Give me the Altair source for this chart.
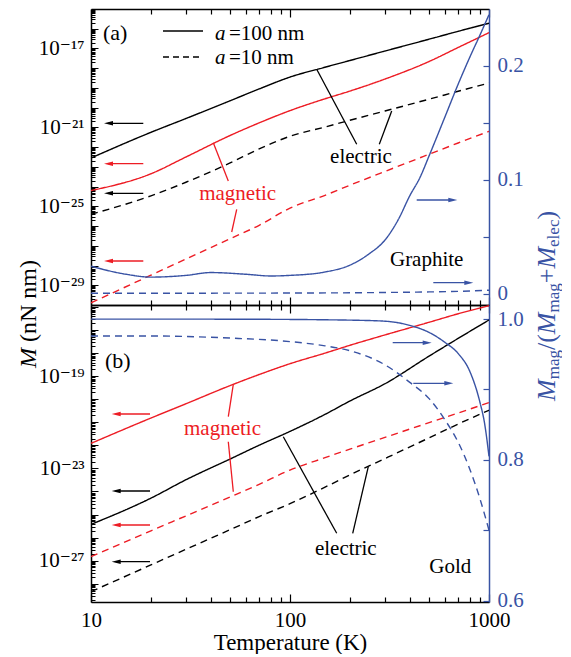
import altair as alt
import pandas as pd

FONT = "Liberation Serif, DejaVu Serif, Noto Serif, Times New Roman, Times, serif"
BLACK = "#000000"
RED = "#ed1c24"
BLUE = "#3953a4"

# ---------------- data ----------------
T = [10, 20, 30, 50, 70, 100, 150, 200, 300, 500, 700, 1000]

# panel (a) Graphite, log10 of M in nN nm
gr_elec_100 = [-22.55, -21.25, -20.55, -19.65, -19.05, -18.45, -17.95, -17.61, -17.13, -16.53, -16.13, -15.72]
gr_mag_100 = [-24.2, -23.35, -22.5, -21.41, -20.77, -20.15, -19.55, -19.16, -18.55, -17.66, -16.95, -16.2]
gr_elec_10 = [-25.4, -24.47, -23.78, -22.8, -22.09, -21.45, -20.98, -20.64, -20.17, -19.57, -19.17, -18.75]
gr_mag_10 = [-29.89, -28.49, -27.67, -26.64, -25.96, -25.09, -24.44, -23.93, -23.23, -22.36, -21.79, -21.2]

# panel (b) Gold, log10 of M in nN nm
au_elec_100 = [-25.43, -24.29, -23.49, -22.59, -21.99, -21.39, -20.65, -20.07, -19.32, -18.12, -17.35, -16.55]
au_mag_100 = [-21.91, -20.81, -20.19, -19.40, -18.92, -18.45, -17.99, -17.65, -17.2, -16.65, -16.28, -15.93]
au_elec_10 = [-28.35, -27.19, -26.51, -25.66, -25.09, -24.53, -23.81, -23.28, -22.57, -21.67, -21.07, -20.47]
au_mag_10 = [-26.83, -25.71, -25.06, -24.24, -23.69, -23.07, -22.53, -22.16, -21.65, -21.01, -20.59, -20.14]

# ratio M_mag/(M_mag+M_elec)
T_ratio_gr = [10, 15, 20, 30, 40, 60, 80, 100, 150, 200, 250, 300, 350, 400, 450, 500, 600, 700, 800, 900, 1000]
gr_ratio_100 = [0.024, 0.017, 0.0145, 0.016, 0.0185, 0.017, 0.0155, 0.016, 0.019, 0.025, 0.035, 0.047, 0.065,
                0.086, 0.102, 0.121, 0.155, 0.184, 0.2075, 0.227, 0.245]
T_ratio_gr10 = [10, 100, 300, 500, 700, 1000]
gr_ratio_10 = [0.0003, 0.0005, 0.001, 0.0015, 0.002, 0.003]

T_ratio_au = [10, 20, 50, 100, 150, 200, 300, 400, 500, 600, 700, 800, 900, 950, 1000]
au_ratio_100 = [1.0, 1.0, 0.9998, 0.9995, 0.999, 0.9985, 0.997, 0.991, 0.981, 0.967, 0.951, 0.926, 0.882, 0.852, 0.805]
T_ratio_au10 = [10, 20, 50, 100, 150, 200, 300, 400, 500, 600, 700, 800, 900, 1000]
au_ratio_10 = [0.976, 0.976, 0.973, 0.968, 0.962, 0.955, 0.935, 0.91, 0.887, 0.857, 0.825, 0.787, 0.745, 0.70]

# ---------------- helpers ----------------
SUP = {"-": "\u207b", "0": "\u2070", "1": "\u00b9", "2": "\u00b2", "3": "\u00b3", "4": "\u2074",
       "5": "\u2075", "6": "\u2076", "7": "\u2077", "8": "\u2078", "9": "\u2079"}


def sup_label(e):
    return "10" + "".join(SUP[c] for c in str(e))


def long_df(rows):
    recs = []
    for name, xs, ys, color, style, islog in rows:
        for x, y in zip(xs, ys):
            recs.append({"T": x, "V": (10 ** y) if islog else y, "c": color, "style": style, "series": name})
    return pd.DataFrame(recs)


W, HA, HB = 398, 296, 297
XSCALE = alt.Scale(type="log", domain=[10, 1000])
X_VALS = [10, 20, 30, 40, 50, 60, 70, 80, 90, 100, 200, 300, 400, 500, 600, 700, 800, 900, 1000]
XMAJOR = "(datum.value == 10 || datum.value == 100 || datum.value == 1000)"
XTICK = XMAJOR + " ? -8 : -5"
YTICK = "abs(log(datum.value)/LN10 - round(log(datum.value)/LN10)) < 0.01 ? -7 : -4"
DASH = alt.StrokeDash("style:N", scale=alt.Scale(domain=["solid", "dashed"], range=[[1, 0], [7, 5]]), legend=None)


def x_axis(orient, labels):
    kw = dict(orient=orient, values=X_VALS, tickSize={"expr": XTICK}, domainColor=BLACK, tickColor=BLACK,
              domainWidth=1.5, tickWidth=1.2, labelFlush=False, labelOverlap=False)
    if labels:
        kw.update(labels=True, labelPadding=15, labelFont=FONT, labelColor=BLACK,
                  labelFontSize={"condition": {"test": XMAJOR, "value": 21}, "value": 0},
                  labelExpr="datum.value == 10 ? '10' : datum.value == 100 ? '100' : datum.value == 1000 ? '1000' : ''",
                  title="Temperature (K)", titleFont=FONT, titleFontSize=23, titleFontWeight="normal",
                  titleColor=BLACK, titlePadding=1)
    else:
        kw.update(labels=False, title=None)
    return alt.Axis(**kw)


def left_axis(vals, labeled):
    tests = [f"abs(log(datum.value)/LN10 - ({e})) < 0.01" for e in labeled]
    expr = " : ".join(f"{t} ? '{sup_label(e)}'" for t, e in zip(tests, labeled)) + " : ''"
    return alt.Axis(orient="left", values=vals, tickSize={"expr": YTICK}, labelExpr=expr, labelPadding=14,
                    labelFont=FONT, labelColor=BLACK,
                    labelFontSize={"condition": {"test": " || ".join(tests), "value": 21}, "value": 0},
                    domainColor=BLACK, tickColor=BLACK,
                    domainWidth=1.5, tickWidth=1, labelFlush=False, labelOverlap=False, title=None)


def log_ticks(lo_exp, hi_exp, vmin, vmax):
    vals = []
    for e in range(lo_exp, hi_exp + 1):
        for m in range(1, 10):
            v = m * 10.0 ** e
            if vmin * 1.02 < v < vmax / 1.02:
                vals.append(v)
    return vals


def right_axis(vals, labeled):
    tests = [f"abs(datum.value - {v}) < 1e-6" for v, s in labeled]
    expr = " : ".join(f"{t} ? '{s}'" for t, (v, s) in zip(tests, labeled)) + " : ''"
    return alt.Axis(orient="right", values=vals, tickSize={"expr": "-6"}, labelExpr=expr, labelPadding=14,
                    labelFont=FONT, labelColor=BLUE,
                    labelFontSize={"condition": {"test": " || ".join(tests), "value": 21}, "value": 0},
                    domainColor=BLUE, tickColor=BLUE,
                    domainWidth=1.5, tickWidth=1.2, labelFlush=False, labelOverlap=False, title=None)


dummy = pd.DataFrame({"d": [0]})


def seg(x1, y1, x2, y2, color, dash=None, w=1.3):
    kw = dict(color=color, strokeWidth=w)
    if dash:
        kw["strokeDash"] = dash
    return alt.Chart(dummy).mark_rule(**kw).encode(
        x=alt.value(x1), y=alt.value(y1), x2=alt.value(x2), y2=alt.value(y2))


def txt(x, y, s, color=BLACK, size=21, align="center", italic=False, angle=None, baseline="middle"):
    kw = dict(text=s, color=color, fontSize=size, align=align, baseline=baseline, font=FONT)
    if italic:
        kw["fontStyle"] = "italic"
    if angle is not None:
        kw["angle"] = angle
    return alt.Chart(dummy).mark_text(**kw).encode(x=alt.value(x), y=alt.value(y))


def arrow(x_tail, x_tip, y, color):
    d = 1 if x_tip > x_tail else -1
    shape = "M1,0L-1,-0.5L-1,0.5Z" if d > 0 else "M-1,0L1,-0.5L1,0.5Z"
    line = seg(x_tail, y, x_tip - d * 4, y, color)
    head = alt.Chart(dummy).mark_point(shape=shape, filled=True, color=color, opacity=1, size=81,
                                       strokeWidth=0).encode(x=alt.value(x_tip - d * 4.5), y=alt.value(y))
    return [line, head]


def panel(left_df, right_df, ydom, yvals, ylab, rdom, rvals, rlab, xlabels, h, annots):
    left = alt.Chart(left_df).mark_line(clip=True, strokeWidth=1.4, interpolate="monotone").encode(
        x=alt.X("T:Q", scale=XSCALE, axis=x_axis("bottom", xlabels)),
        y=alt.Y("V:Q", scale=alt.Scale(type="log", domain=ydom), axis=left_axis(yvals, ylab)),
        color=alt.Color("c:N", scale=None),
        strokeDash=DASH,
        detail="series:N",
    )
    right = alt.Chart(right_df).mark_line(clip=True, strokeWidth=1.4, color=BLUE,
                                          interpolate="monotone").encode(
        x=alt.X("T:Q", scale=XSCALE, axis=x_axis("top", False)),
        y=alt.Y("V:Q", scale=alt.Scale(domain=rdom), axis=right_axis(rvals, rlab)),
        strokeDash=DASH,
        detail="series:N",
    )
    return alt.layer(left, right, *annots).resolve_scale(y="independent").resolve_axis(
        x="independent").properties(width=W, height=h)


# ---------------- panel (a) ----------------
left_a = long_df([
    ("e100", T, gr_elec_100, BLACK, "solid", True),
    ("m100", T, gr_mag_100, RED, "solid", True),
    ("e10", T, gr_elec_10, BLACK, "dashed", True),
    ("m10", T, gr_mag_10, RED, "dashed", True),
])
right_a = long_df([
    ("r100", T_ratio_gr, gr_ratio_100, BLUE, "solid", False),
    ("r10", T_ratio_gr10, gr_ratio_10, BLUE, "dashed", False),
])

ann_a = [
    txt(12, 24, "(a)", align="left", size=22),
    seg(72, 22, 112, 22, BLACK),
    seg(72, 48, 112, 48, BLACK, dash=[6, 4]),
    txt(124, 25, "a", align="left", italic=True),
    txt(138, 25, "=100 nm", align="left"),
    txt(124, 49, "a", align="left", italic=True),
    txt(138, 49, "=10 nm", align="left"),
    txt(270, 148, "electric"),
    seg(225.7, 60.3, 265.7, 135.3, BLACK),
    seg(300.7, 102, 288.3, 135.3, BLACK),
    txt(146.7, 184.5, "magnetic", color=RED),
    seg(122.3, 133.7, 137.3, 172, RED),
    seg(145.7, 200.3, 140.7, 223, RED),
    txt(335.7, 251, "Graphite"),
]
for yy, col in [(114.3, BLACK), (154.7, RED), (184.3, BLACK), (252, RED)]:
    ann_a += arrow(52.3, 13, yy, col)
ann_a += arrow(325.7, 366.3, 191, BLUE)
ann_a += arrow(342.3, 382.3, 273.7, BLUE)

# left axis title  M (nN nm)
ann_a.append(txt(-55, 359, "M", size=24, align="left", italic=True, angle=270, baseline="alphabetic"))
ann_a.append(txt(-55, 333, "(nN nm)", size=24, align="left", angle=270, baseline="alphabetic"))

# right axis title  M_mag/(M_mag+M_elec)
MAIN, SUB = 26, 17
pieces = [("M", MAIN, True, 0.833), ("mag", SUB, False, 1.722), ("/(", MAIN, False, 0.611),
          ("M", MAIN, True, 0.833), ("mag", SUB, False, 1.722), ("+", MAIN, False, 0.564),
          ("M", MAIN, True, 0.833), ("elec", SUB, False, 1.61), (")", MAIN, False, 0.333)]
ypos = 392
for s, fs, it, em in pieces:
    xb = 464 if fs == MAIN else 468
    ann_a.append(txt(xb, ypos, s, color=BLUE, size=fs, align="left", italic=it, angle=270, baseline="alphabetic"))
    ypos -= em * fs

dom_a = [1e-30, 1e-15]
pa = panel(left_a, right_a, dom_a, log_ticks(-30, -16, *dom_a), [-17, -21, -25, -29],
           [-0.01, 0.25], [0, 0.05, 0.1, 0.15, 0.2], [(0.2, "0.2"), (0.1, "0.1"), (0, "0")],
           False, HA, ann_a)

# ---------------- panel (b) ----------------
left_b = long_df([
    ("e100", T, au_elec_100, BLACK, "solid", True),
    ("m100", T, au_mag_100, RED, "solid", True),
    ("e10", T, au_elec_10, BLACK, "dashed", True),
    ("m10", T, au_mag_10, RED, "dashed", True),
])
right_b = long_df([
    ("r100", T_ratio_au, au_ratio_100, BLUE, "solid", False),
    ("r10", T_ratio_au10, au_ratio_10, BLUE, "dashed", False),
])

ann_b = [
    txt(14, 55.7, "(b)", align="left", size=22),
    txt(131.5, 124, "magnetic", color=RED),
    seg(142.3, 79.3, 137.3, 111.7, RED),
    seg(137.3, 136.7, 142.3, 186.7, RED),
    txt(254.8, 244, "electric"),
    seg(192.3, 131.7, 245.7, 228.3, BLACK),
    seg(277.3, 161.7, 261.7, 228.3, BLACK),
    txt(359.3, 261.7, "Gold"),
]
for yy, col in [(109, RED), (186, BLACK), (220, RED), (256.7, BLACK)]:
    ann_b += arrow(59, 20.7, yy, col)
ann_b += arrow(301.7, 340.7, 37.7, BLUE)
ann_b += arrow(322.3, 362.3, 78.3, BLUE)

dom_b = [10 ** -28.8, 10 ** -15.9]
pb = panel(left_b, right_b, dom_b, log_ticks(-29, -16, *dom_b), [-19, -23, -27],
           [0.598, 1.02], [0.6, 0.7, 0.8, 0.9, 1.0], [(1.0, "1.0"), (0.8, "0.8"), (0.6, "0.6")],
           True, HB, ann_b)

chart = alt.vconcat(pa, pb, spacing=0, bounds="flush",
                    padding={"left": 9, "top": 0, "right": 0, "bottom": 0}).configure_view(
    stroke=None).configure_axis(grid=False)

chart.save("out.html", embed_options={"renderer": "svg", "actions": False})
